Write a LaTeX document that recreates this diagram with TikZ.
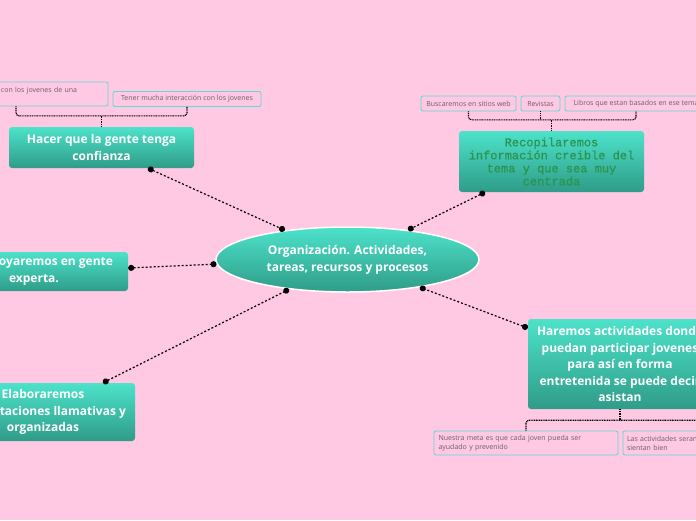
\documentclass[tikz,border=0pt]{standalone}
\usepackage{fontspec}
\setmainfont{Open Sans}
\newfontfamily\recopfont[FakeBold=0.6]{Liberation Mono}
\usetikzlibrary{arrows.meta,shapes.geometric}
\definecolor{pinkbg}{HTML}{FFC8E3}
\definecolor{tealtop}{HTML}{4DE2CA}
\definecolor{tealbot}{HTML}{2F9C88}
\definecolor{idealine}{HTML}{5EDBD2}
\definecolor{ideatext}{HTML}{6A6068}
\definecolor{recopgreen}{HTML}{2A9450}

\begin{document}
\begin{tikzpicture}[x=1pt, y=-1pt,
  topic/.style = {shape=rectangle, rounded corners=3pt, align=center,
    top color=tealtop, bottom color=tealbot, text=white, inner sep=0pt,
    font=\fontsize{12}{16.5}\selectfont\bfseries},
  idea/.style = {shape=rectangle, rounded corners=2pt, draw=idealine,
    line width=0.9pt, text=ideatext, inner sep=0pt, minimum height=15pt,
    font=\fontsize{7}{9}\selectfont},
  link/.style = {dash pattern=on 2pt off 2pt, line width=1.2pt,
    {Circle[length=6pt]}-{Circle[length=6pt]}},
  brace/.style = {line width=1.1pt, dash pattern=on 1pt off 0.7pt,
    rounded corners=3pt}]
  \useasboundingbox (0,0) rectangle (696,520);
  \clip (0,0) rectangle (696,520);
  \fill[pinkbg] (0,0) rectangle (696,520);

  \node [shape=ellipse, draw=white, line width=1.5pt, minimum width=263,
    minimum height=65, top color=tealtop, bottom color=tealbot, text=white,
    align=center, inner sep=0pt, font=\fontsize{12}{17}\selectfont\bfseries]
    (org) at (347.5,259.5) {Organización. Actividades,\\tareas, recursos y procesos};

  \node [topic, minimum width=185, minimum height=41] (hacer) at (101.5,147.5)
    {Hacer que la gente tenga\\confianza};
  \node [topic, minimum width=185, minimum height=61, text=recopgreen,
    font=\fontsize{12}{13}\selectfont\recopfont] (recop) at (551.5,161.5)
    {Recopilaremos\\información creible del\\tema y que sea muy\\centrada};
  \node [topic, minimum width=188, minimum height=39] (apoy) at (34,271.5)
    {\makebox[158pt][r]{oyaremos en gente}\\experta.};
  \node [topic, minimum width=184, minimum height=58] (elab) at (43,412)
    {Elaboraremos\\\makebox[166pt][r]{taciones llamativas y}\\organizadas};
  \node [topic, minimum width=184, minimum height=90] (haremos) at (620,364)
    {Haremos actividades donde\\puedan participar jovenes\\para así en forma\\entretenida se puede decir\\asistan};

  \node [idea, minimum width=184, minimum height=24, text width=176pt, align=left]
    (l1) at (16,94) {\hspace*{73pt}con los jovenes de una\\~};
  \node [idea, minimum width=148] (l2) at (187,99) {Tener mucha interacción con los jovenes};
  \node [idea, minimum width=95] (r1) at (468.5,103.5) {Buscaremos en sitios web};
  \node [idea, minimum width=39] (r2) at (540.5,103.5) {Revistas};
  \node [idea, minimum width=142] (r3) at (636,103.5) {Libros que estan basados en ese tema};
  \node [idea, minimum width=184, minimum height=24, text width=175pt, align=left]
    (n1) at (526,443) {Nuestra meta es que cada joven pueda ser\\ayudado y prevenido};
  \node [idea, minimum width=184, minimum height=24, text width=176pt, align=left]
    (n2) at (715,443) {Las actividades seran\\sientan bien};

  \coordinate (hacerjoin) at ([yshift=11pt]hacer.north);
  \draw[brace] (l1.south) |- (hacerjoin) -| (l2.south);
  \draw[brace] (hacer.north) -- (hacerjoin);
  \coordinate (recopjoin) at ([yshift=11pt]recop.north);
  \draw[brace] (r1.south) |- (recopjoin) -| (r3.south);
  \draw[brace] (r2.south) -- (r2.south |- recopjoin);
  \draw[brace] (recop.north) -- (recopjoin);
  \coordinate (harjoin) at ([yshift=-11pt]haremos.south);
  \draw[brace] (n1.north) |- (harjoin) -| (n2.north);
  \draw[brace] (haremos.south) -- (harjoin);

  \draw[link] ([xshift=46.5pt]hacer.south) -- (org.155);
  \draw[link] ([xshift=-66.5pt]recop.south) -- (org.26);
  \draw[link] ([yshift=3.5pt]apoy.east) -- (org.182);
  \draw[link] ([xshift=60pt]elab.north) -- (org.207);
  \draw[link] ([yshift=36pt]haremos.west) -- (org.339);
\end{tikzpicture}
\end{document}
